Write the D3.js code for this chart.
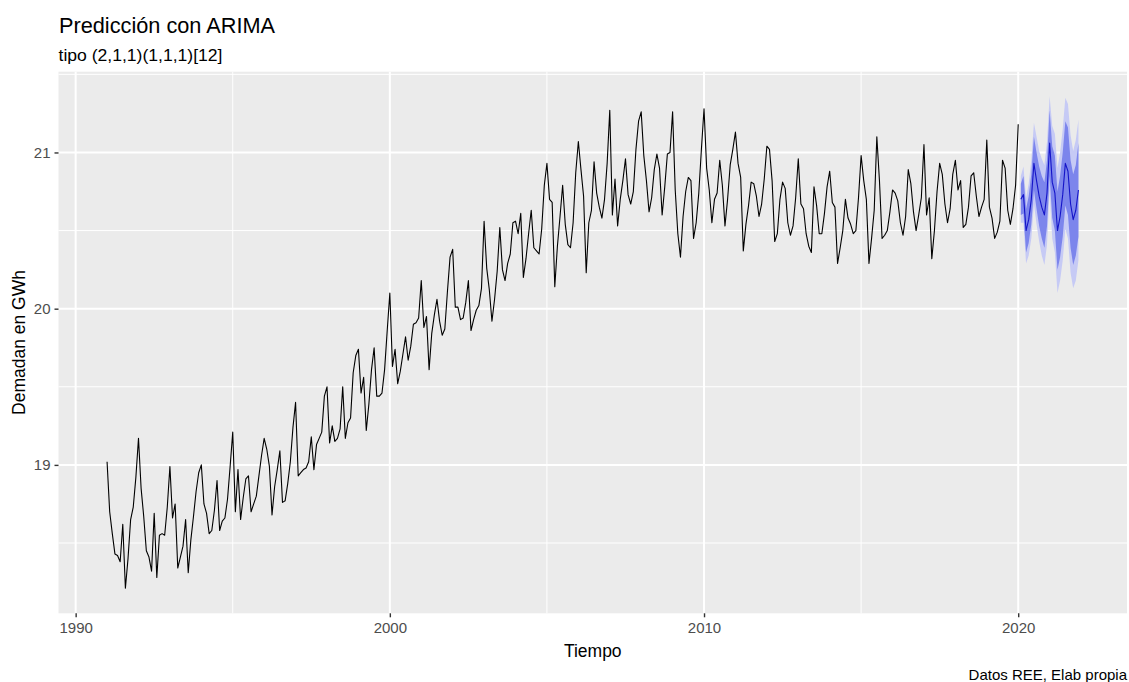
<!DOCTYPE html>
<html>
<head>
<meta charset="utf-8">
<script src="https://cdn.jsdelivr.net/npm/d3@7/dist/d3.min.js"></script>
<style>
  body { margin: 0; background: #ffffff; }
  text { font-family: "Liberation Sans", Arial, sans-serif; }
</style>
</head>
<body>
<div id="chart"></div>
<script>
// Serie mensual observada, enero 1991 a enero 2020
var inicio = 1991;

var demanda1990s = [
  19.02, 18.70, 18.56, 18.43, 18.42, 18.38, 18.62, 18.21, 18.40, 18.65, 18.73, 18.92,
  19.17, 18.85, 18.67, 18.45, 18.41, 18.32, 18.69, 18.28, 18.55, 18.56, 18.55, 18.73,
  18.99, 18.66, 18.75, 18.34, 18.41, 18.48, 18.65, 18.31, 18.52, 18.67, 18.83, 18.95,
  19.00, 18.75, 18.69, 18.56, 18.58, 18.71, 18.90, 18.58, 18.64, 18.66, 18.78, 18.99,
  19.21, 18.70, 18.97, 18.65, 18.79, 18.91, 18.93, 18.70, 18.75, 18.80, 18.93, 19.06,
  19.17, 19.10, 18.99, 18.68, 18.86, 18.97, 19.09, 18.76, 18.77, 18.88, 19.02, 19.24,
  19.40, 18.93, 18.95, 18.97, 18.98, 19.02, 19.18, 18.97, 19.13, 19.17, 19.21, 19.44,
  19.50, 19.14, 19.25, 19.15, 19.17, 19.23, 19.50, 19.17, 19.27, 19.30, 19.59, 19.70,
  19.74, 19.46, 19.56, 19.22, 19.39, 19.61, 19.75, 19.44, 19.44, 19.46, 19.61, 19.86
];

var demanda2000s = [
  20.10, 19.63, 19.74, 19.52, 19.60, 19.71, 19.82, 19.67, 19.76, 19.90, 19.91, 19.94,
  20.18, 19.88, 19.95, 19.61, 19.84, 19.96, 20.06, 19.92, 19.83, 19.87, 20.11, 20.33,
  20.38, 20.01, 20.01, 19.93, 19.94, 20.04, 20.18, 19.86, 19.93, 19.99, 20.02, 20.13,
  20.56, 20.26, 20.12, 19.92, 20.06, 20.24, 20.52, 20.25, 20.18, 20.29, 20.35, 20.55,
  20.56, 20.48, 20.61, 20.20, 20.32, 20.48, 20.63, 20.39, 20.37, 20.35, 20.51, 20.79,
  20.93, 20.70, 20.68, 20.14, 20.40, 20.59, 20.79, 20.54, 20.41, 20.39, 20.55, 20.87,
  21.07, 20.89, 20.72, 20.23, 20.55, 20.63, 20.94, 20.74, 20.65, 20.58, 20.70, 20.93,
  21.27, 20.60, 20.83, 20.53, 20.70, 20.82, 20.96, 20.73, 20.67, 20.75, 21.02, 21.20,
  21.26, 20.98, 20.82, 20.62, 20.71, 20.89, 20.99, 20.90, 20.60, 20.78, 20.99, 21.00,
  21.26, 20.76, 20.48, 20.33, 20.59, 20.75, 20.84, 20.82, 20.45, 20.55, 20.74, 21.02
];

var demanda2010s = [
  21.28, 20.90, 20.76, 20.55, 20.70, 20.74, 20.95, 20.79, 20.53, 20.70, 20.92, 21.02,
  21.13, 20.93, 20.84, 20.37, 20.54, 20.66, 20.81, 20.80, 20.72, 20.59, 20.67, 20.83,
  21.04, 21.02, 20.82, 20.43, 20.48, 20.70, 20.81, 20.77, 20.55, 20.47, 20.53, 20.71,
  20.96, 20.67, 20.64, 20.48, 20.40, 20.36, 20.78, 20.66, 20.48, 20.48, 20.61, 20.78,
  20.88, 20.68, 20.65, 20.29, 20.39, 20.50, 20.70, 20.58, 20.54, 20.48, 20.50, 20.71,
  20.98, 20.82, 20.70, 20.29, 20.45, 20.63, 21.10, 20.82, 20.45, 20.47, 20.50, 20.62,
  20.76, 20.74, 20.69, 20.55, 20.47, 20.59, 20.89, 20.80, 20.62, 20.50, 20.60, 20.71,
  21.05, 20.60, 20.71, 20.32, 20.50, 20.75, 20.93, 20.86, 20.67, 20.55, 20.64, 20.86,
  20.95, 20.76, 20.82, 20.52, 20.54, 20.65, 20.85, 20.87, 20.72, 20.59, 20.65, 20.70,
  21.08, 20.65, 20.58, 20.45, 20.49, 20.56, 20.95, 20.90, 20.63, 20.54, 20.64, 20.79,
  21.18
];

// Prediccion ARIMA, febrero 2020 en adelante
var inicioPred = 2020 + 1 / 12;
var predMedia = [20.70, 20.73, 20.50, 20.57, 20.70, 20.93, 20.82, 20.72, 20.65, 20.60, 20.74, 21.06,
                 20.81, 20.74, 20.50, 20.59, 20.73, 20.93, 20.88, 20.67, 20.57, 20.63, 20.76];
var predLo80 = [20.60, 20.61, 20.36, 20.42, 20.54, 20.76, 20.64, 20.53, 20.45, 20.39, 20.53, 20.85,
                20.58, 20.50, 20.25, 20.33, 20.46, 20.66, 20.60, 20.39, 20.28, 20.34, 20.46];
var predHi80 = [20.80, 20.85, 20.64, 20.72, 20.86, 21.10, 21.00, 20.91, 20.85, 20.81, 20.95, 21.27,
                21.04, 20.98, 20.75, 20.85, 21.00, 21.20, 21.16, 20.95, 20.86, 20.92, 21.06];
var predLo95 = [20.55, 20.55, 20.29, 20.34, 20.45, 20.67, 20.54, 20.43, 20.34, 20.28, 20.41, 20.76,
                20.45, 20.36, 20.10, 20.18, 20.31, 20.51, 20.45, 20.23, 20.13, 20.18, 20.31];
var predHi95 = [20.85, 20.91, 20.71, 20.80, 20.95, 21.19, 21.10, 21.01, 20.96, 20.92, 21.07, 21.36,
                21.17, 21.12, 20.90, 21.00, 21.15, 21.35, 21.31, 21.11, 21.01, 21.08, 21.21];

// Ticks
var xTicks = [1990, 2000, 2010, 2020];
var xMinor = [1995, 2005, 2015];
var yTicks = [19, 20, 21];
var yMinor = [18.5, 19.5, 20.5, 21.5];

// Tamano del lienzo y del panel
var width = 1129;
var height = 682;
var panel = { left: 58.5, right: 1127, top: 71.7, bottom: 613.3 };

var svg = d3.select("#chart")
  .append("svg")
  .attr("width", width)
  .attr("height", height);

svg.append("rect").attr("width", width).attr("height", height).attr("fill", "#ffffff");

// Construyendo los datos con su tiempo
var demanda = demanda1990s.concat(demanda2000s, demanda2010s);
var serie = demanda.map(function(v, i) { return { t: inicio + i / 12, v: v }; });
var pred = predMedia.map(function(v, i) {
  return { t: inicioPred + i / 12, m: v, lo80: predLo80[i], hi80: predHi80[i], lo95: predLo95[i], hi95: predHi95[i] };
});

// Escalas (con expansion tipo ggplot)
var tMin = serie[0].t;
var tMax = pred[pred.length - 1].t;
var tPad = (tMax - tMin) * 0.05;
var xScale = d3.scaleLinear()
  .domain([tMin - tPad, tMax + tPad])
  .range([panel.left, panel.right]);

var yScale = d3.scaleLinear()
  .domain([18.05, 21.517])
  .range([panel.bottom, panel.top]);

// Panel gris
svg.append("rect")
  .attr("x", panel.left)
  .attr("y", panel.top)
  .attr("width", panel.right - panel.left)
  .attr("height", panel.bottom - panel.top)
  .attr("fill", "#EBEBEB");

// Rejilla menor
var grid = svg.append("g").attr("class", "grid");
grid.selectAll("line.xminor").data(xMinor).enter().append("line")
  .attr("x1", function(d) { return xScale(d); })
  .attr("x2", function(d) { return xScale(d); })
  .attr("y1", panel.top).attr("y2", panel.bottom)
  .attr("stroke", "#ffffff").attr("stroke-width", 1);
grid.selectAll("line.yminor").data(yMinor).enter().append("line")
  .attr("y1", function(d) { return yScale(d); })
  .attr("y2", function(d) { return yScale(d); })
  .attr("x1", panel.left).attr("x2", panel.right)
  .attr("stroke", "#ffffff").attr("stroke-width", 1);

// Rejilla mayor
grid.selectAll("line.xmajor").data(xTicks).enter().append("line")
  .attr("x1", function(d) { return xScale(d); })
  .attr("x2", function(d) { return xScale(d); })
  .attr("y1", panel.top).attr("y2", panel.bottom)
  .attr("stroke", "#ffffff").attr("stroke-width", 2);
grid.selectAll("line.ymajor").data(yTicks).enter().append("line")
  .attr("y1", function(d) { return yScale(d); })
  .attr("y2", function(d) { return yScale(d); })
  .attr("x1", panel.left).attr("x2", panel.right)
  .attr("stroke", "#ffffff").attr("stroke-width", 2);

// Intervalos de prediccion
var area95 = d3.area()
  .x(function(d) { return xScale(d.t); })
  .y0(function(d) { return yScale(d.lo95); })
  .y1(function(d) { return yScale(d.hi95); });
var area80 = d3.area()
  .x(function(d) { return xScale(d.t); })
  .y0(function(d) { return yScale(d.lo80); })
  .y1(function(d) { return yScale(d.hi80); });

svg.append("path").datum(pred).attr("d", area95).attr("fill", "#C6CAF5");
svg.append("path").datum(pred).attr("d", area80).attr("fill", "#7C85EC");

// Linea de la serie observada
var line = d3.line()
  .x(function(d) { return xScale(d.t); })
  .y(function(d) { return yScale(d.v); });

svg.append("path").datum(serie)
  .attr("d", line)
  .attr("fill", "none")
  .attr("stroke", "#000000")
  .attr("stroke-width", 1.1)
  .attr("stroke-linejoin", "round");

// Linea media de la prediccion
var lineaPred = d3.line()
  .x(function(d) { return xScale(d.t); })
  .y(function(d) { return yScale(d.m); });

svg.append("path").datum(pred)
  .attr("d", lineaPred)
  .attr("fill", "none")
  .attr("stroke", "#1414C8")
  .attr("stroke-width", 1.1)
  .attr("stroke-linejoin", "round");

// Ejes
var xAxis = d3.axisBottom(xScale).tickValues(xTicks).tickSize(4).tickPadding(5).tickFormat(d3.format("d"));
var yAxis = d3.axisLeft(yScale).tickValues(yTicks).tickSize(4).tickPadding(4).tickFormat(d3.format("d"));

var gx = svg.append("g")
  .attr("transform", "translate(0," + panel.bottom + ")")
  .call(xAxis);
var gy = svg.append("g")
  .attr("transform", "translate(" + panel.left + ",0)")
  .call(yAxis);

[gx, gy].forEach(function(g) {
  g.select(".domain").remove();
  g.selectAll(".tick line").attr("stroke", "#333333").attr("stroke-width", 1.4);
  g.selectAll(".tick text")
    .attr("fill", "#4D4D4D")
    .style("font-size", "15px")
    .style("font-family", "'Liberation Sans', Arial, sans-serif");
});

// Titulos
svg.append("text")
  .attr("x", 59)
  .attr("y", 33)
  .attr("textLength", 216)
  .attr("lengthAdjust", "spacingAndGlyphs")
  .style("font-size", "22px")
  .attr("fill", "#000000")
  .text("Predicción con ARIMA");

svg.append("text")
  .attr("x", 58.5)
  .attr("y", 61)
  .attr("textLength", 164)
  .attr("lengthAdjust", "spacingAndGlyphs")
  .style("font-size", "16px")
  .attr("fill", "#000000")
  .text("tipo (2,1,1)(1,1,1)[12]");

svg.append("text")
  .attr("x", (panel.left + panel.right) / 2)
  .attr("y", 657)
  .attr("text-anchor", "middle")
  .style("font-size", "17.5px")
  .attr("fill", "#000000")
  .text("Tiempo");

svg.append("text")
  .attr("transform", "translate(25," + ((panel.top + panel.bottom) / 2) + ")rotate(-90)")
  .attr("text-anchor", "middle")
  .style("font-size", "17.5px")
  .attr("fill", "#000000")
  .text("Demadan en GWh");

svg.append("text")
  .attr("x", 1127)
  .attr("y", 680)
  .attr("text-anchor", "end")
  .style("font-size", "15px")
  .attr("fill", "#000000")
  .text("Datos REE, Elab propia");
</script>
</body>
</html>
